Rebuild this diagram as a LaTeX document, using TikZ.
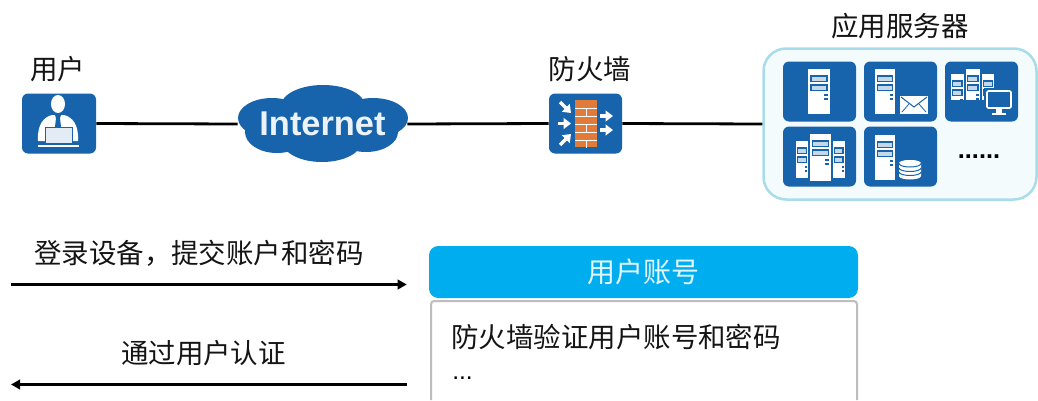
\documentclass[tikz,border=0pt]{standalone}
\usepackage{fontspec}
\setmainfont{Liberation Sans}
\newfontfamily\cjk{Noto Sans CJK SC}
\usetikzlibrary{arrows.meta}
\newdimen\px \px=0.75pt
\definecolor{iconblue}{HTML}{1763AC}
\definecolor{brick}{HTML}{E07B39}
\definecolor{headerblue}{HTML}{00AEEF}
\definecolor{panelline}{HTML}{A9DCEA}
\definecolor{panelfill}{HTML}{F4FBFD}
\definecolor{framegray}{HTML}{BDBDBD}
\tikzset{
  x=0.75pt,y=-0.75pt,
  iconbox/.style={fill=iconblue,rounded corners=4.5pt,inner sep=0pt,minimum width=73\px,minimum height=60\px},
  link/.style={line width=2.8\px,black},
  flow/.style={line width=2.3\px,black,-{Triangle[length=6.75pt,width=7.1pt]}},
  label/.style={font=\cjk\fontsize{20.6pt}{24pt}\selectfont,text=black!92,inner sep=0pt,anchor=center},
  wht/.style={fill=white,draw=none},
  moveout/.style={-{Triangle[length=5.5pt,width=8pt]},line width=3.5\px,white}
}
% server: x1 y1 x2 y2
\newcommand{\srv}[4]{%
  \fill[wht] (#1,#2) rectangle (#3,#4);
  \pgfmathsetmacro{\sw}{#3-#1}
  \pgfmathsetmacro{\sa}{#1+0.13*\sw}\pgfmathsetmacro{\sb}{#3-0.13*\sw}
  \pgfmathsetmacro{\sc}{#3-0.26*\sw}\pgfmathsetmacro{\sd}{#3-0.08*\sw}
  \draw[iconblue,line width=1.4\px,fill=white!75!iconblue] (\sa,#2+7) rectangle (\sb,#2+12.5);
  \draw[iconblue,line width=1.4\px,fill=white!75!iconblue] (\sa,#2+16) rectangle (\sb,#2+21.5);
  \fill[iconblue] (\sc,#2+25) rectangle (\sd,#2+27);
  \fill[iconblue] (\sc,#2+29) rectangle (\sd,#2+31);
}
\begin{document}
\begin{tikzpicture}
\useasboundingbox (0,0) rectangle (1038,400);
\fill[white] (0,0) rectangle (1038,400);

% top row
\node[label] (lbluser) at (57.5,69) {用户};
\node[label] (lblfw) at (590,69) {防火墙};
\node[label] (lblapps) at (900,26) {应用服务器};

\node[iconbox,minimum width=74\px] (user) at (59,123.5) {};
\node[iconbox] (fw) at (585.5,123.5) {};
\node[draw=panelline,fill=panelfill,line width=2.5\px,rounded corners=17pt,inner sep=0pt,minimum width=273\px,minimum height=151\px] (apps) at (900,124) {};

% cloud
\fill[iconblue]
  (323,124) ellipse [x radius=60,y radius=25]
  (323,106) ellipse [x radius=42,y radius=21]
  (272,118) ellipse [x radius=34,y radius=20]
  (373,118) ellipse [x radius=35,y radius=20]
  (277,132) ellipse [x radius=32,y radius=21]
  (322,141) ellipse [x radius=40,y radius=21]
  (366,132) ellipse [x radius=32,y radius=20];
\node[inner sep=0pt,minimum width=169\px,minimum height=40\px,text=white!92!iconblue,font=\bfseries\fontsize{25.8pt}{28pt}\selectfont] (inet) at (322.5,124) {Internet};

\draw[link] (user.east) -- (inet.west);
\draw[link] (inet.east) -- (fw.west);
\draw[link] (fw.east) -- (apps.west);

% user icon
\fill[white] (58,104) ellipse [x radius=7,y radius=9];
\fill[white] (38,141) .. controls (37,124) and (44,117) .. (52,115) -- (64,115) .. controls (72,117) and (79,124) .. (78,141) -- cycle;
\fill[iconblue] (55,115) -- (61,115) -- (60,118) -- (61,127) -- (55,127) -- (56,118) -- cycle;
\draw[iconblue,line width=1\px,fill=white!88!iconblue] (45,127) rectangle (72.5,143);
\fill[white] (38,144.5) rectangle (79,146.5);

% firewall icon
\fill[brick] (575,100) rectangle (597,147);
\foreach \yy in {108,116,124,132,140}{\draw[white,line width=0.9\px] (575,\yy) -- (597,\yy);}
\foreach \xx/\yy in {586/100,586/116,586/132}{\draw[white,line width=0.9\px] (\xx,\yy+8) -- (\xx,\yy+16);}
\coordinate (a1s) at (560,102); \coordinate (a1e) at (571,113);
\coordinate (a2s) at (558,123.5); \coordinate (a2e) at (571,123.5);
\coordinate (a3s) at (560,145); \coordinate (a3e) at (571,134);
\coordinate (a4s) at (600,116); \coordinate (a4e) at (613,116);
\coordinate (a5s) at (600,130); \coordinate (a5e) at (613,130);
\foreach \ss/\ee in {a1s/a1e,a2s/a2e,a3s/a3e,a4s/a4e,a5s/a5e}{\draw[moveout] (\ss) -- (\ee);}

% application tiles
\node[iconbox] (t1) at (819.5,91.5) {};
\node[iconbox] (t2) at (900.5,91.5) {};
\node[iconbox] (t3) at (981.5,91.5) {};
\node[iconbox] (t4) at (819.5,156.5) {};
\node[iconbox] (t5) at (900.5,156.5) {};

\srv{808}{69}{830}{114}
\srv{875}{69}{895}{114}
% envelope
\fill[white] (900,96) rectangle (928,114);
\draw[iconblue,line width=1\px] (901,97) -- (914,107) -- (927,97);
\draw[iconblue,line width=0.8\px] (902,112) -- (909,104) (926,112) -- (919,104);

\srv{951}{74}{963.5}{100}
\srv{965.5}{69}{980}{100}
\srv{982}{74}{994}{100}
% monitor
\fill[iconblue] (984,88) rectangle (1014,112);
\draw[white,line width=1.6\px,fill=iconblue,rounded corners=1pt] (987,91) rectangle (1011,108);
\fill[white] (996,108) rectangle (1002,113);
\fill[white] (992,112.5) rectangle (1006,114.5);

\srv{796}{141}{808}{178}
\srv{833}{141}{844.5}{178}
\srv{809.5}{134}{831}{181}

\srv{875}{135}{895}{180}
% database
\fill[white] (899,163.5) -- (899,176) arc[start angle=180,end angle=0,x radius=11,y radius=3.5] -- (921,163.5) arc[start angle=0,end angle=-180,x radius=11,y radius=3.5] -- cycle;
\fill[white] (910,163.5) ellipse [x radius=11,y radius=3.5];
\foreach \yy in {163.5,168,172}{
  \draw[iconblue,line width=1\px] (899,\yy) arc[start angle=180,end angle=0,x radius=11,y radius=3.5];
}

\node[inner sep=0pt,text=black,font=\bfseries\fontsize{19pt}{22pt}\selectfont] (more) at (979,157) {......};

% bottom left
\node[label] (lbllogin) at (199,253) {登录设备，提交账户和密码};
\node[label] (lblpass) at (203.5,353) {通过用户认证};
\coordinate (f1s) at (11,284.5);
\coordinate (f2e) at (11,384.5);

% bottom right
\node[fill=headerblue,rounded corners=7pt,inner sep=0pt,minimum width=429\px,minimum height=52\px,text=white!90!headerblue,font=\cjk\fontsize{21pt}{24pt}\selectfont] (head) at (643.5,272) {用户账号};
\coordinate (f1e) at (head.west|-f1s);
\coordinate (f2s) at (head.west|-f2e);
\draw[flow] (f1s) -- ([xshift=-22\px]f1e);
\draw[flow] ([xshift=-22\px]f2s) -- (f2e);
\draw[framegray,line width=2\px,rounded corners=2.5pt] (431,400) -- (431,301) -- (857,301) -- (857,400);
\node[label,anchor=west] (lblcheck) at (451,337) {防火墙验证用户账号和密码};
\node[inner sep=0pt,anchor=west,text=black,font=\fontsize{18.5pt}{22pt}\selectfont] (lbldots) at (452,378) {...};
\end{tikzpicture}
\end{document}
